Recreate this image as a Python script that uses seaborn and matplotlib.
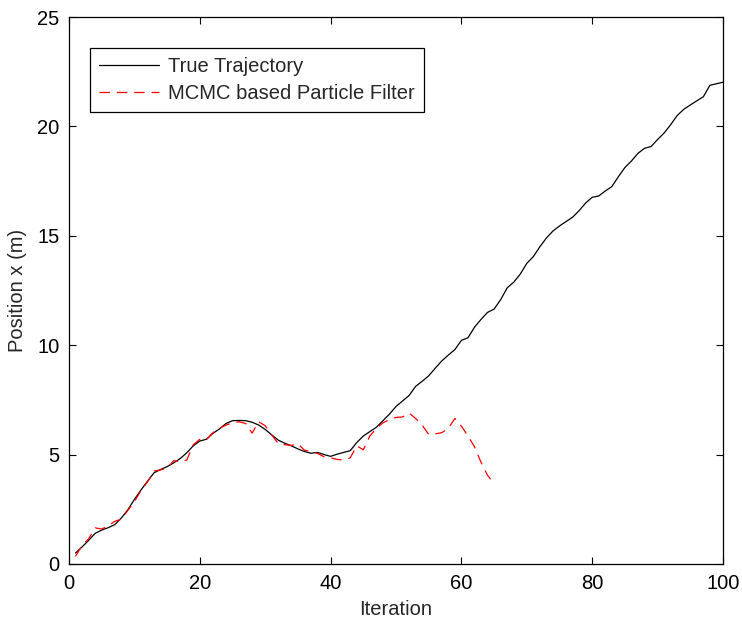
import numpy as np
import pandas as pd
import matplotlib
matplotlib.use("Agg")
import matplotlib.pyplot as plt
import seaborn as sns

# True position along x for each filter iteration
true_x = [
    0.50, 0.78, 1.08, 1.40, 1.55, 1.66, 1.80, 2.10, 2.48, 2.95,
    3.38, 3.78, 4.17, 4.32, 4.45, 4.62, 4.82, 5.08, 5.40, 5.62,
    5.70, 5.97, 6.17, 6.42, 6.55, 6.56, 6.55, 6.48, 6.35, 6.15,
    5.90, 5.66, 5.52, 5.40, 5.26, 5.14, 5.06, 5.10, 5.00, 4.92,
    5.02, 5.10, 5.18, 5.55, 5.85, 6.05, 6.25, 6.55, 6.85, 7.20,
    7.45, 7.70, 8.12, 8.35, 8.60, 8.95, 9.28, 9.55, 9.80, 10.22,
    10.34, 10.82, 11.18, 11.50, 11.65, 12.08, 12.62, 12.88, 13.25, 13.74,
    14.05, 14.50, 14.90, 15.22, 15.45, 15.65, 15.85, 16.15, 16.50, 16.76,
    16.82, 17.05, 17.25, 17.70, 18.12, 18.42, 18.77, 19.00, 19.08, 19.40,
    19.70, 20.08, 20.50, 20.78, 20.98, 21.17, 21.36, 21.88, 21.95, 22.02,
]

# Particle filter estimate (tracking is lost after iteration 65)
mcmc_x = [
    0.35, 0.85, 1.15, 1.65, 1.60, 1.75, 1.95, 2.05, 2.45, 2.85,
    3.35, 3.75, 4.25, 4.30, 4.38, 4.72, 4.68, 4.75, 5.45, 5.70,
    5.68, 6.00, 6.20, 6.35, 6.45, 6.50, 6.42, 5.98, 6.50, 6.32,
    5.90, 5.50, 5.45, 5.42, 5.50, 5.20, 5.15, 5.05, 4.90, 4.85,
    4.78, 4.75, 4.85, 5.40, 5.22, 5.85, 6.20, 6.45, 6.60, 6.70,
    6.72, 6.90, 6.65, 6.35, 5.92, 5.95, 6.00, 6.20, 6.65, 6.30,
    5.85, 5.36, 4.65, 4.05, 3.68,
]

iter_true = list(range(1, len(true_x) + 1))
iter_mcmc = list(range(1, len(mcmc_x) + 1))

x_ticks = [0, 20, 40, 60, 80, 100]
y_ticks = [0, 5, 10, 15, 20, 25]

sns.set_style("ticks")
plt.rcParams["font.family"] = ["Liberation Sans", "DejaVu Sans"]
plt.rcParams["lines.scale_dashes"] = False

df_true = pd.DataFrame({"Iteration": iter_true, "x": true_x})
df_mcmc = pd.DataFrame({"Iteration": iter_mcmc, "x": mcmc_x})

fig = plt.figure(figsize=(7.42, 6.21), dpi=100)
ax = fig.add_axes([0.093, 0.0918, 0.8814, 0.8808])

sns.lineplot(data=df_true, x="Iteration", y="x", ax=ax, color="black",
             linewidth=0.9, label="True Trajectory")
sns.lineplot(data=df_mcmc, x="Iteration", y="x", ax=ax, color="#ff0000",
             linewidth=0.9, label="MCMC based Particle Filter",
             linestyle=(0, (7.5, 5)))

ax.set_xlim(0, 100)
ax.set_ylim(0, 25)
ax.set_xticks(x_ticks)
ax.set_yticks(y_ticks)
ax.set_xlabel("Iteration", fontsize=14.5, labelpad=5)
ax.set_ylabel("Position x (m)", fontsize=14.5, labelpad=7)

for side in ["top", "right", "bottom", "left"]:
    ax.spines[side].set_visible(True)
    ax.spines[side].set_color("black")
    ax.spines[side].set_linewidth(0.9)
ax.tick_params(direction="in", length=5, width=0.8, top=True, right=True,
               labelsize=14.5, colors="black", pad=7)

leg = ax.legend(loc="upper left", bbox_to_anchor=(0.032, 0.943),
                borderaxespad=0, fontsize=14.5, frameon=True, fancybox=False,
                shadow=False, handlelength=3.0, handletextpad=0.45,
                borderpad=0.45, labelspacing=0.4)
leg.get_frame().set_edgecolor("black")
leg.get_frame().set_linewidth(0.9)
leg.get_frame().set_alpha(1)

fig.savefig("out.png", dpi=100)
